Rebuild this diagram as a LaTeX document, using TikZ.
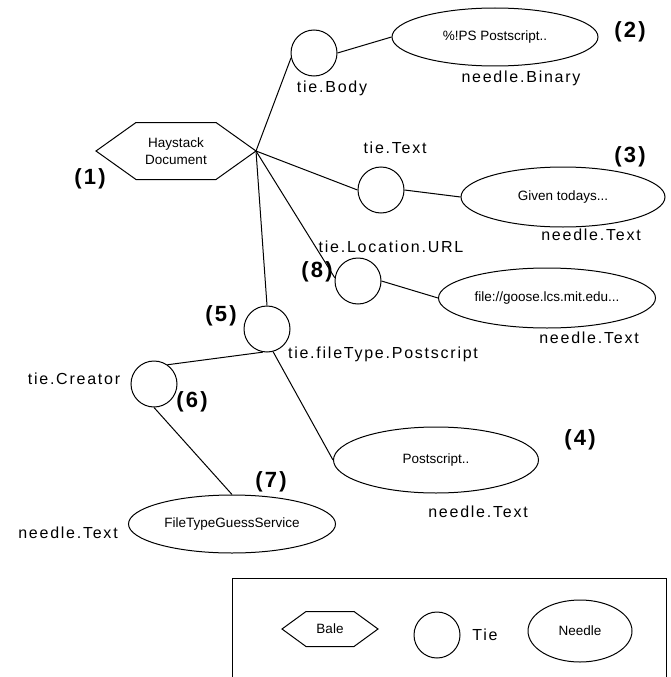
\documentclass[tikz,border=0pt]{standalone}
\usepackage{fontspec}
\setmainfont{Liberation Sans}
\newfontfamily\lblfont[LetterSpace=11]{Liberation Sans}
\newfontfamily\numfont[LetterSpace=10]{Liberation Sans}
\usetikzlibrary{shapes.geometric}
\begin{document}
\begin{tikzpicture}[x=1pt,y=-1pt, line width=1pt,
  tie/.style={draw, circle, minimum size=46pt, inner sep=0pt},
  needle/.style={draw, ellipse, inner sep=0pt, font=\fontsize{13.5}{15}\selectfont},
  bale/.style={inner sep=0pt, font=\fontsize{13.5}{17}\selectfont, align=center},
  lbl/.style={inner sep=0pt, font=\lblfont\fontsize{16}{18}\selectfont},
  num/.style={inner sep=0pt, font=\numfont\bfseries\fontsize{22}{24}\selectfont}]
\useasboundingbox (0,0) rectangle (670,677);

% Bale (hexagon)
\node[bale, minimum width=159pt, minimum height=56pt] (hay) at (176,151) {Haystack\\Document};
\draw (hay.west) -- ([xshift=40pt]hay.north west) -- ([xshift=-40pt]hay.north east) -- (hay.east)
  -- ([xshift=-40pt]hay.south east) -- ([xshift=40pt]hay.south west) -- cycle;

% Ties
\node[tie] (tb) at (314,53) {};
\node[tie] (tt) at (381,190) {};
\node[tie] (tl) at (358,281) {};
\node[tie] (tf) at (267,329) {};
\node[tie] (tc) at (154,384) {};

% Needles
\node[needle, minimum width=206pt, minimum height=58pt] (e2) at (495,37) {\%!PS Postscript..};
\node[needle, minimum width=204pt, minimum height=60pt] (e3) at (563,197) {Given todays...};
\node[needle, minimum width=217pt, minimum height=60pt] (e8) at (547,298) {file://goose.lcs.mit.edu...};
\node[needle, minimum width=205pt, minimum height=66pt] (e4) at (436,460) {Postscript..};
\node[needle, minimum width=207pt, minimum height=58pt] (e7) at (232,524) {FileTypeGuessService};

% Connectors
\draw (hay.east) -- (tb.192);
\draw (tb.east) -- (e2.west);
\draw (hay.east) -- (tt.west);
\draw (tt.east) -- (e3.west);
\draw (hay.east) -- (tl.172);
\draw (tl.east) -- (e8.west);
\draw (hay.east) -- (tf.north);
\draw (tf.260) -- (tc.55);
\draw (tf.285) -- (e4.west);
\draw (tc.south) -- (e7.north);

% Labels
\node[lbl] (lbody) at (332,88) {tie.Body};
\node[lbl] (lbin) at (521,78) {needle.Binary};
\node[lbl] (ltext) at (395,148) {tie.Text};
\node[lbl] (lnt3) at (591,235) {needle.Text};
\node[lbl] (lurl) at (391,247) {tie.Location.URL};
\node[lbl] (lnt8) at (589,338) {needle.Text};
\node[lbl] (lft) at (383,354) {tie.fileType.Postscript};
\node[lbl] (lcr) at (74,379) {tie.Creator};
\node[lbl] (lnt4) at (478,512) {needle.Text};
\node[lbl] (lnt7) at (68,533) {needle.Text};

% Numbers
\node[num] (n1) at (90,179) {(1)};
\node[num] (n2) at (630,32) {(2)};
\node[num] (n3) at (630,157) {(3)};
\node[num] (n8) at (317,272) {(8)};
\node[num] (n5) at (221,316) {(5)};
\node[num] (n6) at (192,402) {(6)};
\node[num] (n4) at (580,440) {(4)};
\node[num] (n7) at (271,482) {(7)};

% Legend
\draw (232,677) -- (232,578) -- (666,578) -- (666,677);
\node[bale, minimum width=95pt, minimum height=34pt] (lgb) at (330,629) {Bale};
\draw (lgb.west) -- ([xshift=24pt]lgb.north west) -- ([xshift=-24pt]lgb.north east) -- (lgb.east)
  -- ([xshift=-24pt]lgb.south east) -- ([xshift=24pt]lgb.south west) -- cycle;
\node[tie] (lgt) at (437,635) {};
\node[lbl] (lgtl) at (485,635) {Tie};
\node[needle, minimum width=104pt, minimum height=62pt] (lgn) at (580,631) {Needle};
\end{tikzpicture}
\end{document}
